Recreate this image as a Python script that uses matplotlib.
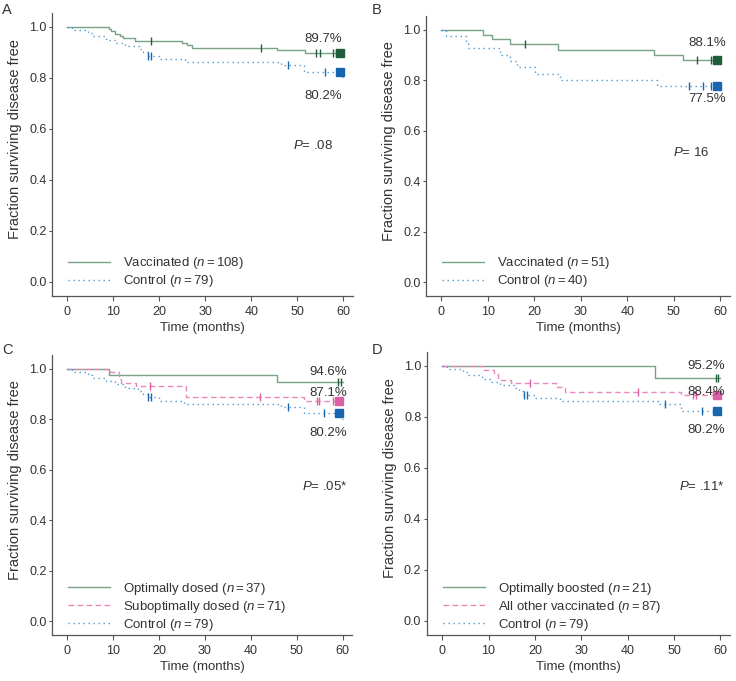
import matplotlib
matplotlib.use("Agg")
import matplotlib.pyplot as plt

plt.rcParams["font.family"] = ["Liberation Sans", "DejaVu Sans"]
plt.rcParams["mathtext.fontset"] = "custom"
plt.rcParams["mathtext.it"] = "Liberation Sans:italic"
plt.rcParams["mathtext.rm"] = "Liberation Sans"

# control group (n=79), shared by panels A, C and D
ctrl_t = [0, 1, 4.5, 5.5, 8.5, 10.5, 12.5, 15.5, 16.5, 17.5, 20, 25.5, 46.5, 51.5, 59.7]
ctrl_s = [1.0, 0.987, 0.975, 0.962, 0.949, 0.937, 0.924, 0.911, 0.899, 0.886, 0.873,
          0.861, 0.848, 0.822, 0.802]
ctrl_cens = [17.6, 18.2, 48.0, 56.0]
ctrl_last = 59.2

# panel A: vaccinated (n=108)
vaxA_t = [0, 9, 9.6, 10.3, 11.5, 12.2, 14.7, 25, 26, 27, 45.5, 51.7]
vaxA_s = [1.0, 0.991, 0.981, 0.972, 0.963, 0.954, 0.944, 0.935, 0.926, 0.917, 0.907, 0.897]
vaxA_cens = [18.1, 42.1, 54.1, 54.9, 57.8, 58.4]
vaxA_last = 59.2

# panel B: vaccinated (n=51) and control (n=40)
vaxB_t = [0, 8.9, 10.9, 14.7, 25.2, 45.7, 51.9]
vaxB_s = [1.0, 0.980, 0.961, 0.941, 0.920, 0.900, 0.881]
vaxB_cens = [17.9, 55.1, 58.0]
vaxB_last = 59.3
ctrlB_t = [0, 1.1, 5.2, 5.8, 12.6, 14.8, 16.2, 20.1, 25.5, 46.5]
ctrlB_s = [1.0, 0.975, 0.950, 0.925, 0.900, 0.875, 0.850, 0.825, 0.800, 0.775]
ctrlB_cens = [53.3, 56.2, 58.0]
ctrlB_last = 59.3

# panel C: optimally (n=37) / suboptimally (n=71) dosed
optC_t = [0, 9.1, 45.7]
optC_s = [1.0, 0.973, 0.946]
optC_cens = [59.0, 59.6]
subC_t = [0, 9.4, 11.2, 11.8, 14.9, 25.8, 51.5]
subC_s = [1.0, 0.986, 0.958, 0.944, 0.930, 0.887, 0.871]
subC_cens = [18.1, 42.1, 54.3, 54.8, 58.0]
subC_last = 59.3

# panel D: optimally boosted (n=21) / all other vaccinated (n=87)
optD_t = [0, 45.8]
optD_s = [1.0, 0.952]
optD_cens = [59.0, 59.5]
othD_t = [0, 8.8, 11.2, 12.0, 14.9, 24.6, 26.4, 51.5]
othD_s = [1.0, 0.983, 0.966, 0.943, 0.930, 0.917, 0.895, 0.884]
othD_cens = [18.9, 42.2, 54.0, 54.8, 58.7]
othD_last = 59.3

GREEN, GREEN_DK = "#7aa287", "#1f5e38"
BLUE, BLUE_DK = "#4d9ad2", "#1866b0"
PINK, PINK_DK = "#e889bb", "#de5ea6"
TXT = "#333333"
DOT = (0, (1, 2.6))
DASH = (0, (4, 2.5))


def km(ax, t, s, color, ls, label, cens, last=None, mark=None, end=60.0):
    xs = list(t) + [end]
    ys = list(s) + [s[-1]]
    ax.step(xs, ys, where="post", color=color, linestyle=ls, lw=1.0, label=label)

    def at(x):
        v = s[0]
        for ti, si in zip(t, s):
            if ti <= x:
                v = si
        return v

    for c in cens:
        ax.plot([c], [at(c)], marker="|", ms=6, mew=1.0, color=mark or color, ls="none")
    if last is not None:
        ax.plot([last], [at(last)], marker="s", ms=5.5, color=mark or color, ls="none")


def style(ax, letter, pos, letter_xy):
    ax.set_position(pos)
    ax.set_xlim(-3.3, 62.1)
    ax.set_ylim(-0.055, 1.053)
    ax.set_xticks([0, 10, 20, 30, 40, 50, 60])
    ax.set_yticks([0.0, 0.2, 0.4, 0.6, 0.8, 1.0])
    ax.set_yticklabels(["0.0", "0.2", "0.4", "0.6", "0.8", "1.0"])
    for sp in ["top", "right"]:
        ax.spines[sp].set_visible(False)
    for sp in ["left", "bottom"]:
        ax.spines[sp].set_color("#555555")
        ax.spines[sp].set_linewidth(0.9)
    ax.tick_params(colors="#555555", labelcolor=TXT, labelsize=9, length=3.5, width=0.8)
    ax.tick_params(axis="y", length=2.5, pad=1.5)
    ax.set_xlabel("Time (months)", fontsize=9.5, color=TXT, labelpad=3)
    ax.set_ylabel("Fraction surviving disease free", fontsize=10.5, color=TXT, labelpad=5)
    ax.yaxis.label.set_y(0.555)
    fig.text(letter_xy[0], letter_xy[1], letter, fontsize=10.5, color=TXT,
             va="top", ha="left")


def legend(ax, y=0.0):
    ax.legend(loc="lower left", bbox_to_anchor=(0.03, y), frameon=False, fontsize=9.5,
              handlelength=3.2, handletextpad=1.0, labelspacing=0.15, borderaxespad=0.1,
              labelcolor=TXT)


def note(ax, x, y, txt):
    ax.text(x, y, txt, ha="right", va="center", fontsize=9.5, color=TXT)


fig = plt.figure(figsize=(7.36, 6.81), dpi=100)
axA = fig.add_axes([0.07, 0.565, 0.41, 0.416])
axB = fig.add_axes([0.579, 0.565, 0.413, 0.412])
axC = fig.add_axes([0.07, 0.0675, 0.408, 0.412])
axD = fig.add_axes([0.58, 0.0675, 0.412, 0.416])

# A
km(axA, vaxA_t, vaxA_s, GREEN, "-", r"Vaccinated ($n = 108$)", vaxA_cens, vaxA_last, GREEN_DK)
km(axA, ctrl_t, ctrl_s, BLUE, DOT, r"Control ($n = 79$)", ctrl_cens, ctrl_last, BLUE_DK)
style(axA, "A", [0.0707, 0.5653, 0.409, 0.4156], (0.003, 0.996))
legend(axA)
note(axA, 59.6, 0.952, "89.7%")
note(axA, 59.6, 0.727, "80.2%")
note(axA, 57.8, 0.535, r"$P$= .08")

# B
km(axB, vaxB_t, vaxB_s, GREEN, "-", r"Vaccinated ($n = 51$)", vaxB_cens, vaxB_last, GREEN_DK)
km(axB, ctrlB_t, ctrlB_s, BLUE, DOT, r"Control ($n = 40$)", ctrlB_cens, ctrlB_last, BLUE_DK)
style(axB, "B", [0.5788, 0.5653, 0.413, 0.411], (0.505, 0.996))
legend(axB)
note(axB, 61.3, 0.948, "88.1%")
note(axB, 61.3, 0.726, "77.5%")
note(axB, 57.6, 0.512, r"$P$= 16")

# C
km(axC, optC_t, optC_s, GREEN, "-", r"Optimally dosed ($n = 37$)", optC_cens, None, GREEN_DK)
km(axC, subC_t, subC_s, PINK, DASH, r"Suboptimally dosed ($n = 71$)", subC_cens,
   subC_last, PINK_DK)
km(axC, ctrl_t, ctrl_s, BLUE, DOT, r"Control ($n = 79$)", ctrl_cens, ctrl_last, BLUE_DK)
style(axC, "C", [0.0707, 0.0675, 0.408, 0.411], (0.003, 0.497))
legend(axC, -0.015)
note(axC, 61.0, 0.988, "94.6%")
note(axC, 61.0, 0.905, "87.1%")
note(axC, 61.0, 0.743, "80.2%")
note(axC, 61.0, 0.534, r"$P$= .05*")

# D
km(axD, optD_t, optD_s, GREEN, "-", r"Optimally boosted ($n = 21$)", optD_cens, None, GREEN_DK)
km(axD, othD_t, othD_s, PINK, DASH, r"All other vaccinated ($n = 87$)", othD_cens,
   othD_last, PINK_DK)
km(axD, ctrl_t, ctrl_s, BLUE, DOT, r"Control ($n = 79$)", ctrl_cens, ctrl_last, BLUE_DK)
style(axD, "D", [0.580, 0.0675, 0.412, 0.4156], (0.505, 0.497))
legend(axD, -0.015)
note(axD, 61.0, 1.0, "95.2%")
note(axD, 61.0, 0.895, "88.4%")
note(axD, 61.0, 0.747, "80.2%")
note(axD, 60.9, 0.525, r"$P$= .11*")

fig.savefig("out.png", dpi=100)
plt.close(fig)
